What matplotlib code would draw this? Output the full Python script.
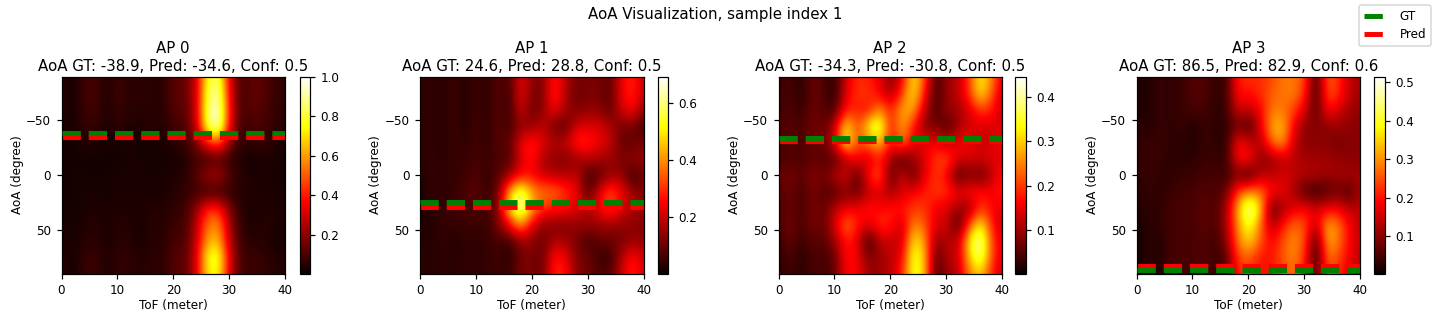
import numpy as np
from matplotlib import pyplot as plt

W, H, DPI = 1438, 321, 108

tof = np.arange(0, 41, 2)
aoa = np.arange(-90, 91, 15)

gt = [-38.9, 24.6, -34.3, 86.5]
pred = [-34.6, 28.8, -30.8, 82.9]
conf = [0.5, 0.5, 0.5, 0.6]
vmins = [0.005, 0.005, 0.003, 0.003]
vmaxs = [1.0, 0.69, 0.445, 0.515]
cbar_ticks = [[0.2, 0.4, 0.6, 0.8, 1.0], [0.2, 0.4, 0.6], [0.1, 0.2, 0.3, 0.4], [0.1, 0.2, 0.3, 0.4, 0.5]]

# spectra, rows are aoa, columns are tof
ap0 = [
    [.05, .02, .09, .10, .03, .09, .05, .06, .05, .05, .13, .13, .28, .78, .86, .30, .08, .14, .12, .08, .05],
    [.05, .02, .09, .10, .03, .09, .05, .06, .05, .05, .13, .13, .28, .82, .94, .32, .08, .14, .12, .08, .05],
    [.05, .02, .08, .09, .03, .08, .05, .05, .05, .05, .12, .12, .28, .85, 1.0, .34, .08, .13, .11, .07, .05],
    [.04, .02, .07, .07, .03, .06, .04, .04, .05, .04, .09, .10, .26, .85, 1.0, .33, .07, .10, .10, .06, .04],
    [.03, .02, .04, .04, .02, .03, .03, .02, .03, .03, .05, .08, .15, .40, .50, .18, .05, .07, .07, .04, .03],
    [.02, .02, .02, .02, .02, .02, .03, .03, .02, .02, .03, .03, .10, .05, .10, .05, .04, .01, .04, .03, .02],
    [.02, .03, .03, .02, .03, .03, .03, .03, .03, .03, .04, .05, .12, .25, .26, .12, .05, .04, .02, .03, .02],
    [.02, .02, .03, .03, .02, .03, .03, .03, .03, .03, .05, .06, .08, .05, .05, .06, .04, .04, .04, .03, .03],
    [.03, .02, .03, .04, .03, .04, .04, .03, .05, .04, .06, .08, .20, .42, .42, .17, .04, .04, .04, .04, .03],
    [.04, .02, .04, .05, .03, .05, .04, .03, .05, .04, .08, .09, .25, .55, .58, .22, .06, .03, .05, .04, .03],
    [.04, .02, .05, .06, .03, .05, .05, .03, .05, .05, .10, .10, .28, .62, .65, .25, .07, .05, .05, .02, .03],
    [.05, .02, .07, .08, .03, .07, .06, .04, .06, .05, .12, .12, .30, .78, .82, .30, .08, .08, .07, .04, .04],
    [.05, .02, .07, .08, .03, .07, .06, .04, .06, .05, .12, .12, .30, .72, .76, .28, .08, .08, .07, .05, .04],
]
ap1 = [
    [.04, .05, .03, .06, .03, .06, .04, .09, .06, .24, .14, .12, .30, .18, .12, .12, .12, .08, .24, .30, .18],
    [.04, .05, .03, .06, .03, .06, .04, .09, .05, .25, .12, .12, .31, .17, .10, .12, .12, .08, .24, .30, .18],
    [.04, .05, .03, .06, .03, .06, .04, .09, .04, .22, .10, .14, .26, .16, .12, .14, .14, .08, .22, .26, .14],
    [.04, .05, .03, .06, .03, .07, .04, .09, .06, .14, .14, .20, .10, .08, .22, .22, .22, .18, .10, .12, .05],
    [.04, .05, .03, .06, .04, .07, .04, .09, .08, .24, .30, .22, .18, .20, .30, .30, .24, .20, .10, .10, .12],
    [.04, .05, .04, .05, .05, .07, .05, .08, .07, .22, .28, .16, .14, .12, .14, .18, .16, .16, .12, .15, .15],
    [.03, .05, .04, .05, .06, .08, .05, .08, .15, .25, .25, .20, .18, .18, .20, .06, .08, .14, .15, .04, .12],
    [.02, .05, .04, .05, .07, .09, .05, .10, .45, .62, .42, .38, .38, .30, .25, .06, .22, .35, .25, .15, .12],
    [.02, .04, .05, .06, .07, .08, .05, .14, .48, .69, .42, .30, .28, .27, .22, .18, .25, .33, .22, .18, .15],
    [.03, .03, .05, .05, .05, .06, .05, .12, .25, .42, .22, .14, .12, .12, .15, .15, .15, .15, .14, .14, .12],
    [.04, .03, .05, .03, .05, .04, .05, .07, .05, .14, .14, .10, .18, .16, .12, .05, .10, .10, .12, .15, .14],
    [.04, .03, .05, .03, .05, .04, .05, .06, .03, .12, .12, .10, .28, .25, .12, .12, .05, .05, .18, .28, .20],
    [.04, .03, .05, .03, .05, .04, .05, .06, .05, .12, .12, .10, .30, .27, .13, .10, .08, .08, .20, .30, .20],
]
ap2 = [
    [.03, .05, .02, .07, .05, .02, .14, .19, .18, .15, .08, .15, .33, .22, .03, .10, .12, .20, .34, .25, .14],
    [.03, .05, .02, .07, .05, .02, .15, .20, .20, .16, .10, .20, .33, .18, .03, .10, .12, .20, .33, .22, .12],
    [.04, .05, .03, .07, .05, .04, .18, .18, .16, .26, .18, .28, .28, .12, .04, .10, .10, .14, .20, .18, .12],
    [.04, .06, .04, .08, .06, .12, .34, .20, .34, .40, .16, .28, .18, .08, .08, .04, .10, .14, .14, .14, .14],
    [.04, .06, .04, .07, .06, .14, .36, .20, .24, .30, .16, .26, .14, .16, .16, .12, .16, .16, .12, .14, .16],
    [.04, .05, .05, .06, .05, .05, .10, .17, .12, .18, .10, .03, .10, .14, .20, .22, .14, .14, .14, .15, .14],
    [.06, .08, .05, .09, .07, .12, .15, .04, .18, .24, .04, .15, .05, .15, .20, .16, .03, .08, .05, .12, .18],
    [.05, .07, .04, .08, .05, .05, .08, .06, .12, .14, .10, .14, .16, .18, .20, .20, .16, .18, .18, .16, .18],
    [.04, .07, .04, .08, .06, .12, .15, .16, .18, .16, .18, .18, .20, .20, .15, .14, .10, .08, .20, .16, .15],
    [.04, .08, .04, .08, .06, .14, .25, .18, .14, .20, .18, .12, .26, .22, .14, .14, .03, .22, .34, .18, .12],
    [.03, .07, .03, .06, .05, .10, .18, .15, .02, .12, .13, .12, .33, .27, .08, .12, .12, .32, .43, .20, .14],
    [.02, .05, .02, .05, .04, .06, .18, .16, .08, .10, .12, .16, .36, .30, .04, .12, .12, .30, .40, .20, .14],
    [.02, .05, .02, .05, .04, .06, .17, .16, .10, .10, .12, .18, .36, .30, .03, .10, .12, .24, .30, .18, .12],
]
ap3 = [
    [.02, .02, .04, .03, .04, .06, .06, .03, .04, .22, .22, .22, .24, .28, .28, .25, .02, .27, .22, .14, .12],
    [.02, .02, .04, .03, .04, .06, .06, .03, .04, .20, .20, .22, .26, .28, .29, .22, .02, .26, .22, .14, .12],
    [.02, .02, .04, .03, .04, .05, .05, .03, .04, .16, .14, .18, .28, .28, .24, .16, .05, .20, .16, .12, .10],
    [.03, .02, .04, .03, .04, .02, .04, .03, .03, .08, .04, .16, .32, .34, .18, .10, .10, .10, .12, .10, .10],
    [.03, .04, .04, .03, .03, .02, .04, .03, .03, .20, .16, .12, .26, .32, .14, .10, .10, .10, .08, .10, .10],
    [.03, .04, .04, .03, .03, .03, .04, .04, .03, .20, .21, .10, .10, .14, .14, .12, .12, .12, .11, .10, .10],
    [.03, .04, .03, .03, .04, .04, .05, .05, .04, .08, .02, .14, .14, .16, .14, .14, .13, .12, .12, .13, .12],
    [.02, .04, .03, .04, .05, .05, .06, .05, .08, .24, .30, .28, .20, .18, .13, .04, .03, .05, .08, .04, .14],
    [.02, .03, .03, .05, .05, .05, .07, .05, .12, .32, .50, .36, .05, .12, .16, .20, .16, .18, .18, .14, .14],
    [.01, .03, .03, .05, .05, .05, .07, .05, .12, .30, .42, .28, .12, .20, .28, .24, .14, .33, .28, .18, .14],
    [.01, .03, .02, .05, .05, .05, .06, .04, .10, .28, .36, .26, .18, .25, .30, .25, .02, .33, .28, .18, .14],
    [.01, .03, .02, .05, .05, .05, .06, .04, .06, .24, .26, .20, .20, .25, .30, .22, .02, .28, .24, .18, .14],
    [.01, .03, .02, .05, .05, .05, .06, .04, .04, .22, .22, .20, .20, .24, .28, .20, .02, .25, .22, .16, .13],
]
spectra = [ap0, ap1, ap2, ap3]

# pixel left edges of the image axes and of the colorbars
ax_lefts = [61.5, 420, 778.5, 1136.5]
cax_lefts = [299.5, 657.5, 1015.5, 1374]
ax_width = 223.5
cax_width = 10.5
ax_top, ax_bottom = 76.7, 273.5


def pixelRect(left, width):
    return [left / W, 1 - ax_bottom / H, width / W, (ax_bottom - ax_top) / H]


fig = plt.figure(figsize=(W / DPI, H / DPI), dpi=DPI)

for i in range(4):
    ax = fig.add_axes(pixelRect(ax_lefts[i], ax_width))
    cax = fig.add_axes(pixelRect(cax_lefts[i], cax_width))
    im = ax.imshow(spectra[i], cmap='hot', aspect='auto', interpolation='bicubic',
                   extent=[tof[0] - 1, tof[-1] + 1, aoa[-1] + 7.5, aoa[0] - 7.5],
                   vmin=vmins[i], vmax=vmaxs[i])
    gt_line = ax.axhline(gt[i], color='green', linestyle='--', linewidth=3.3, dash_capstyle='butt', zorder=3)
    pred_line = ax.axhline(pred[i], color='red', linestyle='--', linewidth=3.3, dash_capstyle='butt')
    ax.set_xlim(0, 40)
    ax.set_ylim(90, -90)
    ax.set_xticks([0, 10, 20, 30, 40])
    ax.set_yticks([-50, 0, 50])
    ax.tick_params(labelsize=8)
    ax.set_xlabel('ToF (meter)', fontsize=8, labelpad=1.5)
    ax.set_ylabel('AoA (degree)', fontsize=8, labelpad=1.5)
    ax.set_title(f'AP {i}\nAoA GT: {gt[i]:.1f}, Pred: {pred[i]:.1f}, Conf: {conf[i]:.1f}', fontsize=10, pad=4)
    cbar = fig.colorbar(im, cax=cax)
    cbar.set_ticks(cbar_ticks[i])
    cbar.ax.tick_params(labelsize=8)

fig.suptitle('AoA Visualization, sample index 1', fontsize=10, x=715 / W, y=1 - 15 / H, va='center')
fig.legend([gt_line, pred_line], ['GT', 'Pred'], loc='upper right', fontsize=8,
           bbox_to_anchor=(1431 / W, 1 - 5.5 / H), borderaxespad=0, handletextpad=1.0, labelspacing=0.4)

fig.savefig('out.png', dpi=DPI)
